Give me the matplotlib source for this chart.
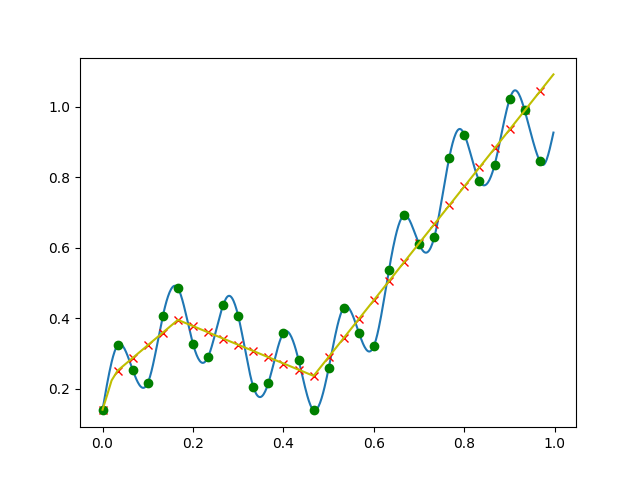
import numpy as np
import matplotlib
matplotlib.use("Agg")
import matplotlib.pyplot as plt

# Sample points (green dots)
x_samples = np.arange(30) / 30.0
y_samples = [0.140, 0.323, 0.253, 0.216, 0.406, 0.485, 0.327, 0.290, 0.437, 0.406,
             0.205, 0.216, 0.358, 0.282, 0.139, 0.258, 0.430, 0.359, 0.321, 0.537,
             0.692, 0.610, 0.629, 0.856, 0.921, 0.789, 0.834, 1.021, 0.990, 0.846]

# Extra points (turning points and the end)
x_extra = [0.085, 0.221, 0.277, 0.347, 0.586, 0.714, 0.789, 0.844, 0.909, 0.973, 0.996]
y_extra = [0.205, 0.273, 0.462, 0.176, 0.307, 0.586, 0.937, 0.777, 1.045, 0.835, 0.921]

# Fitted values (red crosses)
y_fit = [0.140, 0.251, 0.287, 0.323, 0.359, 0.395, 0.377, 0.360, 0.342, 0.324,
         0.307, 0.289, 0.271, 0.254, 0.236, 0.290, 0.344, 0.398, 0.452, 0.505,
         0.559, 0.613, 0.667, 0.721, 0.775, 0.829, 0.882, 0.936, 0.990, 1.044]

# Yellow fit line vertices
x_line = [0.0, 0.011, 0.020, 1 / 30, 5 / 30, 14 / 30, 0.997]
y_line = [0.140, 0.185, 0.223, 0.251, 0.395, 0.236, 1.092]


# Natural cubic spline through the knots, evaluated at xs
def cubic_spline(xk, yk, xs):
    n = len(xk)
    h = np.diff(xk)
    A = np.zeros((n, n))
    r = np.zeros(n)
    A[0, 0] = A[-1, -1] = 1
    for i in range(1, n - 1):
        A[i, i - 1] = h[i - 1]
        A[i, i] = 2 * (h[i - 1] + h[i])
        A[i, i + 1] = h[i]
        r[i] = 3 * ((yk[i + 1] - yk[i]) / h[i] - (yk[i] - yk[i - 1]) / h[i - 1])
    c = np.linalg.solve(A, r)
    b = (yk[1:] - yk[:-1]) / h - h * (2 * c[:-1] + c[1:]) / 3
    d = (c[1:] - c[:-1]) / (3 * h)
    idx = np.clip(np.searchsorted(xk, xs) - 1, 0, n - 2)
    dx = xs - xk[idx]
    return yk[idx] + b[idx] * dx + c[idx] * dx ** 2 + d[idx] * dx ** 3


xk = np.concatenate([x_samples, x_extra])
yk = np.concatenate([y_samples, y_extra])
order = np.argsort(xk)
xk, yk = xk[order], yk[order]

x_dense = np.linspace(0, 0.997, 600)
y_dense = cubic_spline(xk, yk, x_dense)

fig = plt.figure(figsize=(6.4, 4.8), dpi=100)
ax = fig.add_subplot(111)
ax.plot(x_dense, y_dense, '-')
ax.plot(x_samples, y_fit, 'rx')
ax.plot(x_samples, y_samples, 'go')
ax.plot(x_line, y_line, 'y-')

fig.savefig("out.png", dpi=100)
